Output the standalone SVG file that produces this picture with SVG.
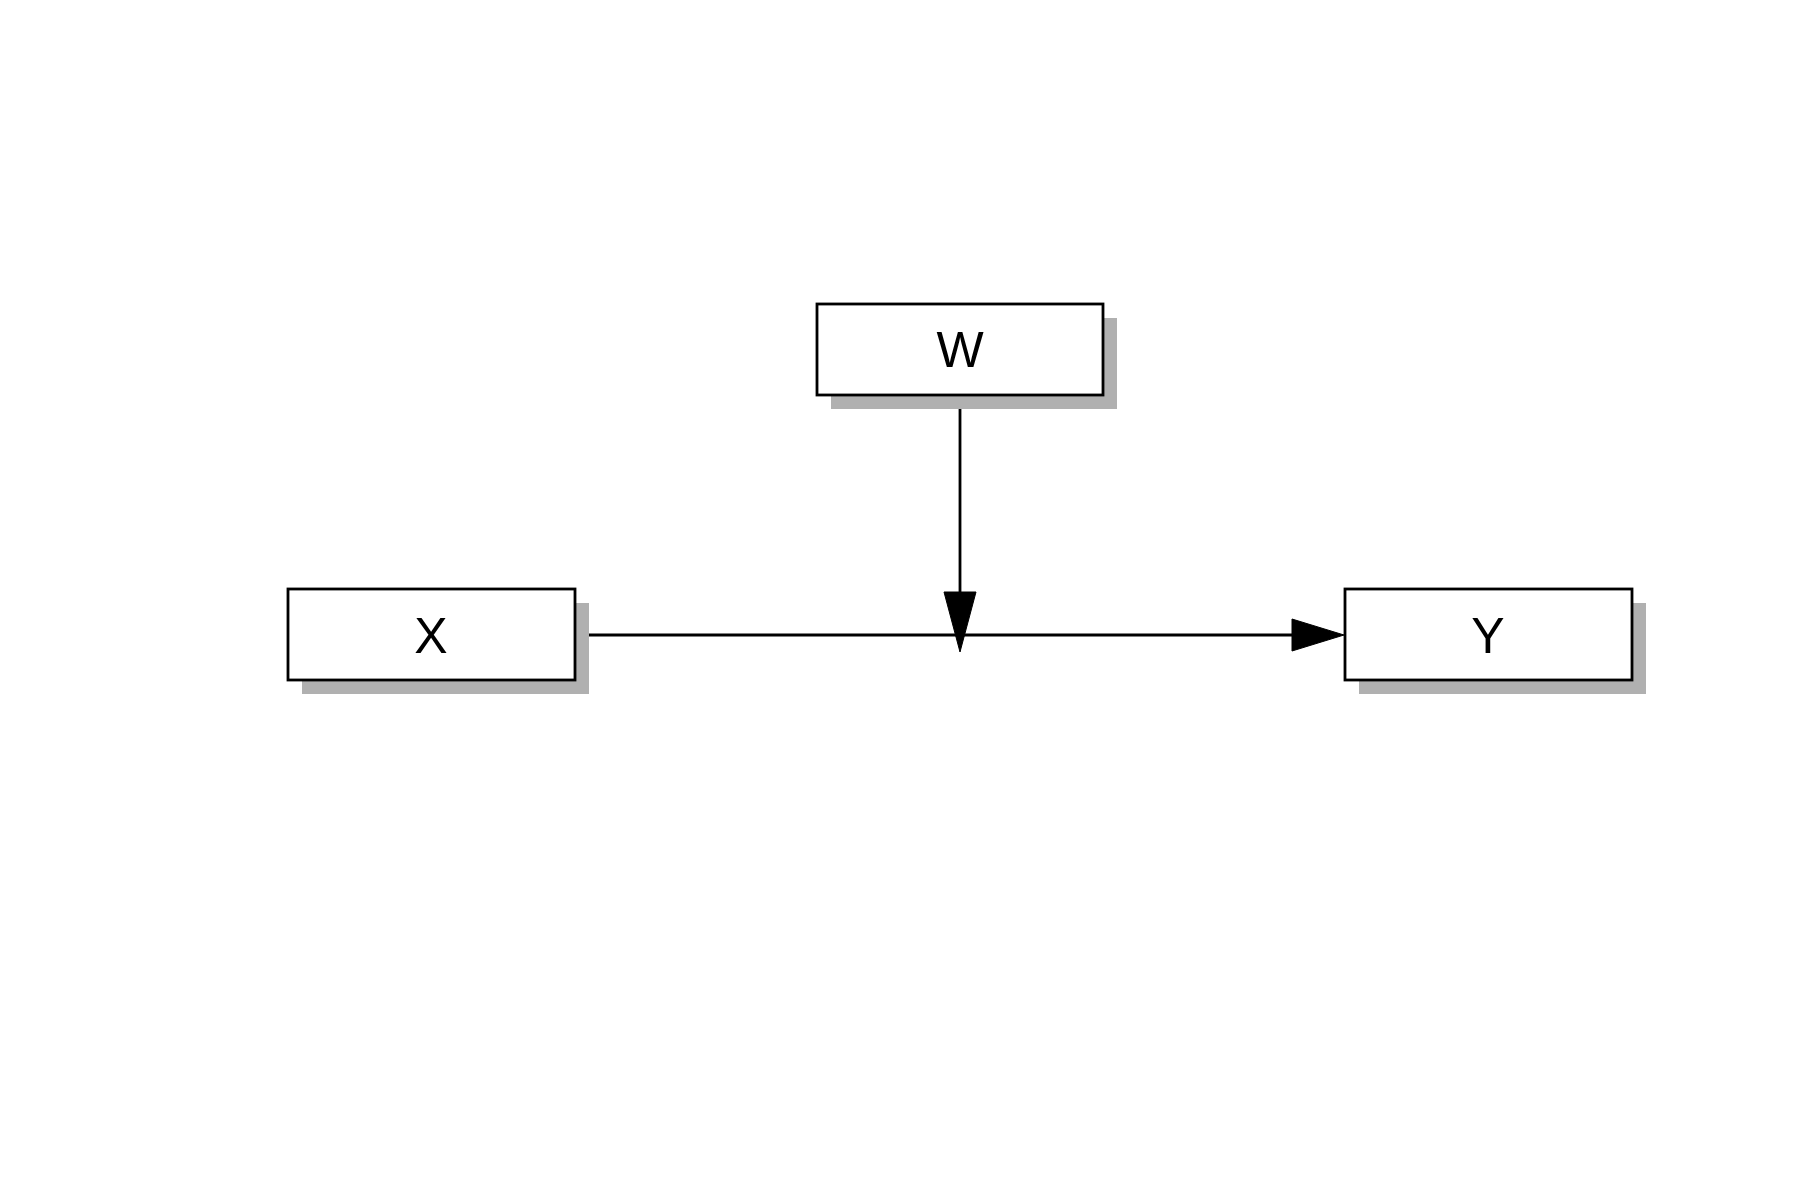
<svg xmlns="http://www.w3.org/2000/svg" width="1800" height="1200" viewBox="0 0 1800 1200">
  <style>
    .shadow { fill: #b0b0b0; }
    .box { fill: #ffffff; stroke: #000000; stroke-width: 2.8; }
    .label { font-family: "Liberation Sans", Arial, sans-serif; font-size: 50px; fill: #000000; text-anchor: middle; }
    .edge { stroke: #000000; stroke-width: 2.8; fill: none; }
    .head { fill: #000000; stroke: #000000; stroke-width: 1; stroke-linejoin: round; }
  </style>
  <rect width="1800" height="1200" fill="#ffffff"/>

  <g id="connectors">
    <!-- X to Y -->
    <line class="edge" x1="588" y1="635" x2="1300" y2="635"/>
    <polygon class="head" points="1344,635 1292,619 1292,651"/>
    <!-- W onto the X-Y path -->
    <line class="edge" x1="960" y1="408" x2="960" y2="600"/>
    <polygon class="head" points="960,652 944,592 976,592"/>
  </g>

  <g id="node-W">
    <rect class="shadow" x="831" y="318" width="286" height="91"/>
    <rect class="box" x="817" y="304" width="286" height="91"/>
    <text class="label" x="960" y="367">W</text>
  </g>

  <g id="node-X">
    <rect class="shadow" x="302" y="603" width="287" height="91"/>
    <rect class="box" x="288" y="589" width="287" height="91"/>
    <text class="label" x="431" y="653">X</text>
  </g>

  <g id="node-Y">
    <rect class="shadow" x="1359" y="603" width="287" height="91"/>
    <rect class="box" x="1345" y="589" width="287" height="91"/>
    <text class="label" x="1488" y="653">Y</text>
  </g>
</svg>
